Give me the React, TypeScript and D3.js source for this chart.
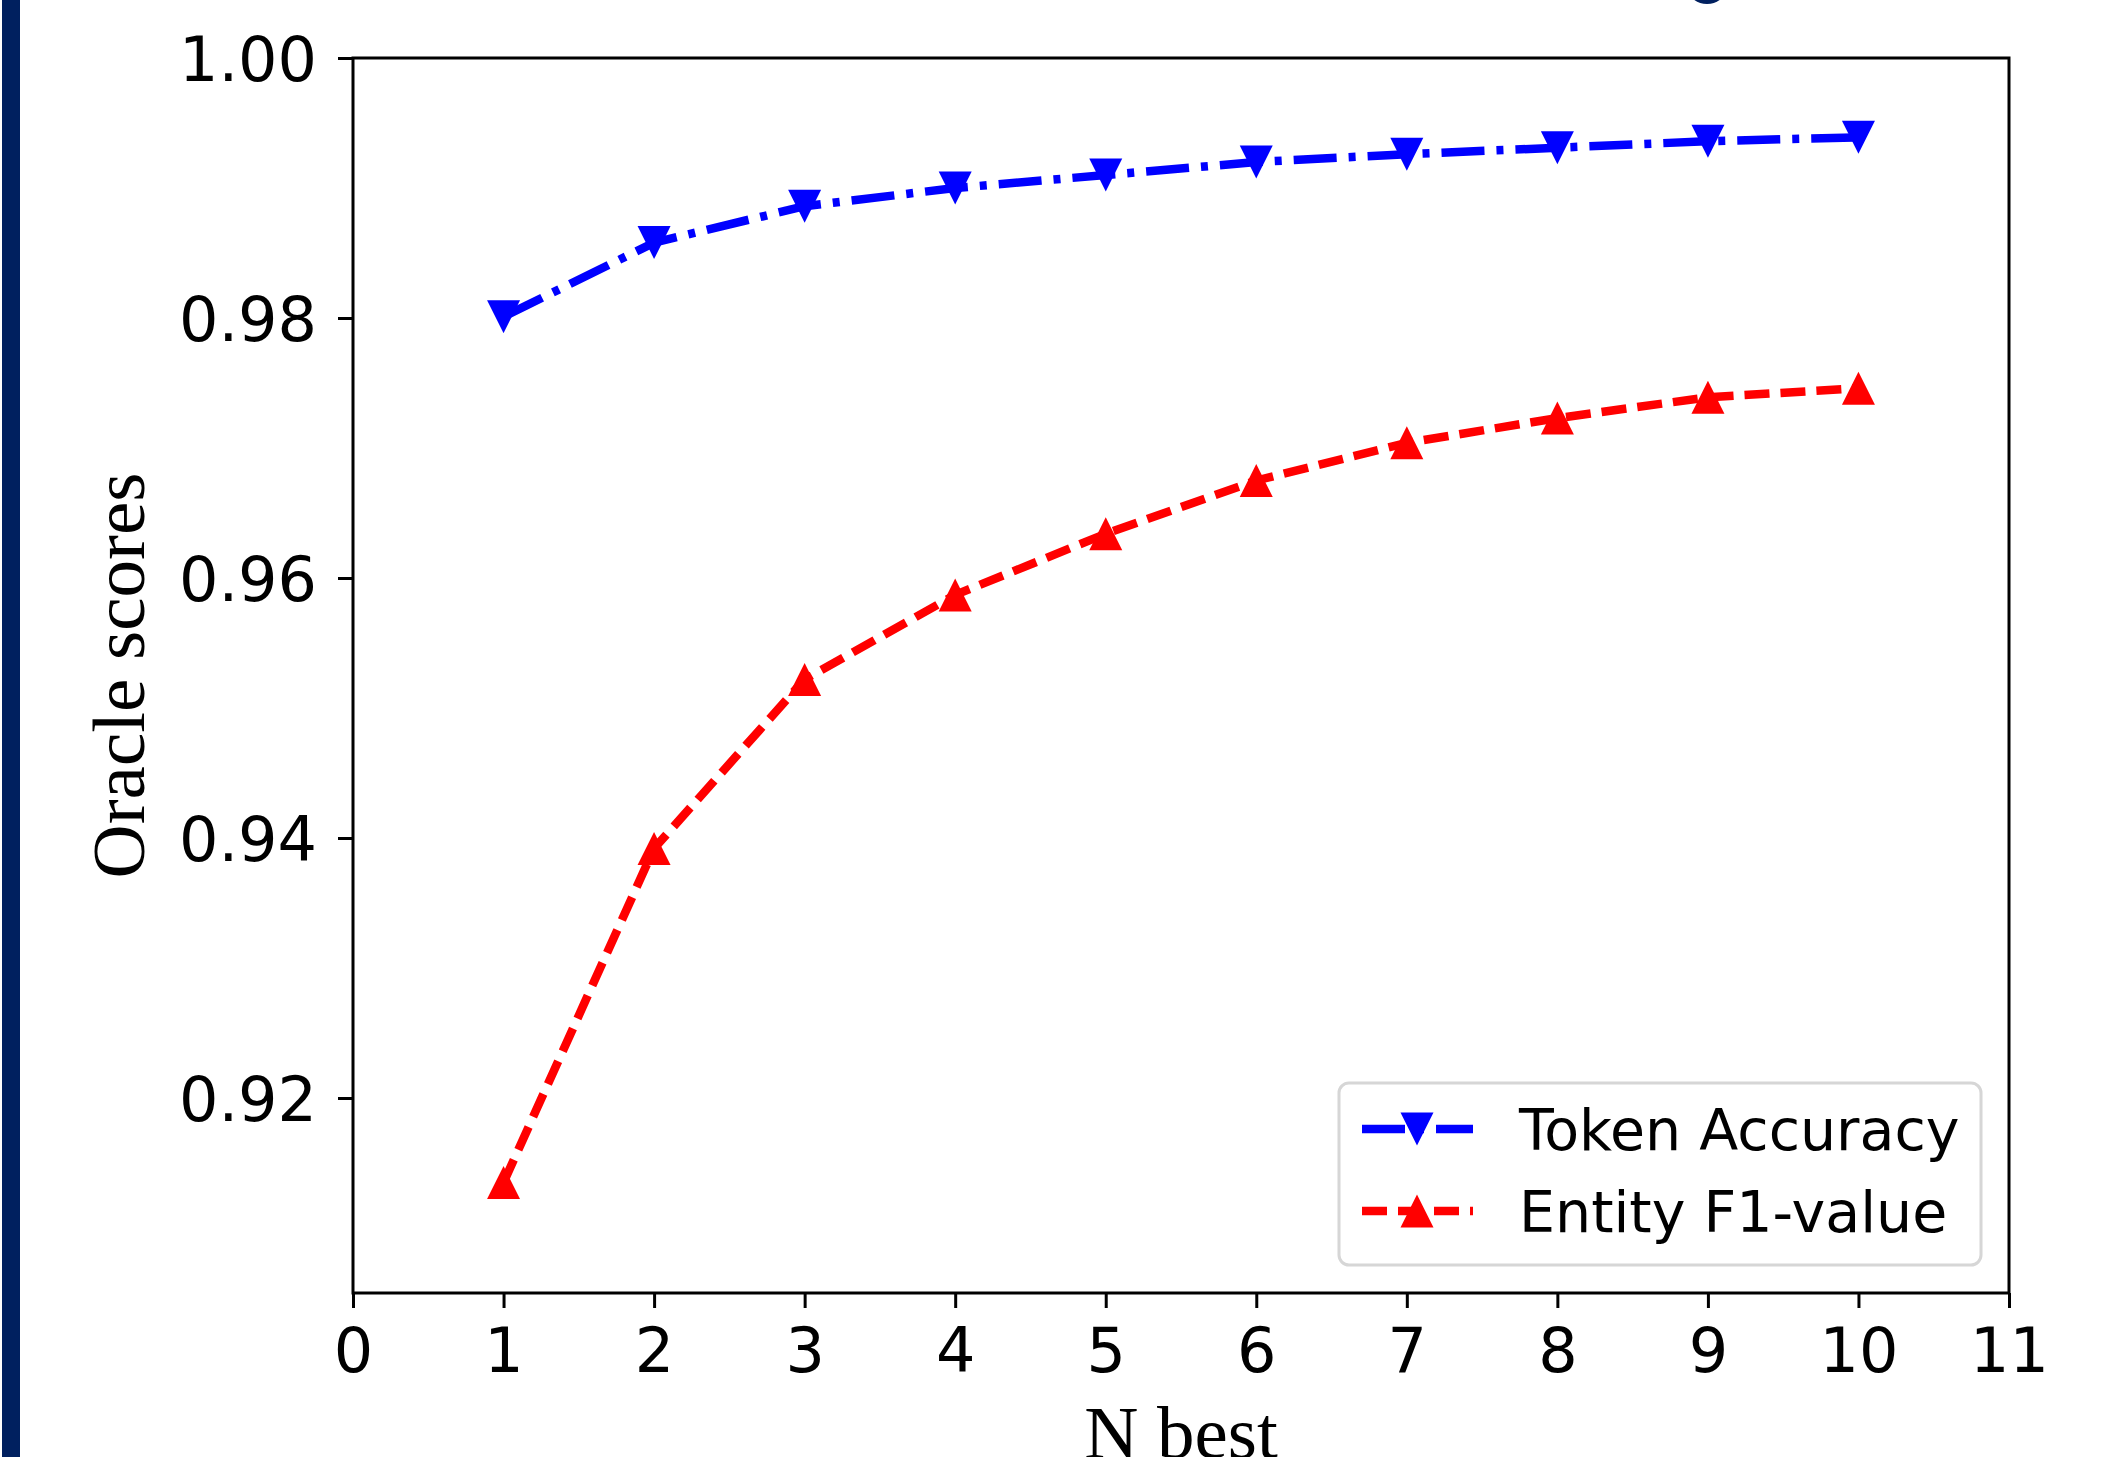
import React, { useEffect, useRef } from "react";
import * as d3 from "d3";

// N-best oracle scores
const nBest = [1, 2, 3, 4, 5, 6, 7, 8, 9, 10];
const tokenAccuracy = [0.9801, 0.9858, 0.9886, 0.99, 0.991, 0.992, 0.9926, 0.9931, 0.9936, 0.9939];
const entityF1 = [0.9135, 0.9392, 0.9522, 0.9587, 0.9634, 0.9675, 0.9704, 0.9723, 0.9739, 0.9746];
const seriesNames = ["Token Accuracy", "Entity F1-value"];
const xTicks = [0, 1, 2, 3, 4, 5, 6, 7, 8, 9, 10, 11];
const yTicks = [0.92, 0.94, 0.96, 0.98, 1.0];

const W = 2112;
const H = 1457;

export default function App() {
  const ref = useRef<SVGSVGElement>(null);

  useEffect(() => {
    const svg = d3.select(ref.current);
    svg.selectAll("*").remove();

    const left = 353, right = 2009, top = 58, bottom = 1293;
    const x = d3.scaleLinear().domain([0, 11]).range([left, right]);
    const y = d3.scaleLinear().domain([0.905, 1.0]).range([bottom, top]);

    // navy strip on the left edge and a clipped glyph at the top
    svg.append("rect").attr("x", 2).attr("y", 0).attr("width", 18).attr("height", H).attr("fill", "#00205f");
    svg.append("ellipse").attr("cx", 1707).attr("cy", -10).attr("rx", 18).attr("ry", 14).attr("fill", "#00205f");

    svg.append("clipPath").attr("id", "plotclip")
      .append("rect").attr("x", left).attr("y", top).attr("width", right - left).attr("height", bottom - top);

    const lw = 8.5;
    const series = [
      { name: seriesNames[0], values: tokenAccuracy, color: "#0000ff", dash: "43,12,7,12", down: true },
      { name: seriesNames[1], values: entityF1, color: "#ff0000", dash: "25,11", down: false },
    ];

    const ms = 16.5;
    const tri = (down: boolean) =>
      down ? `M0,${ms}L${-ms},${-ms}L${ms},${-ms}Z` : `M0,${-ms}L${-ms},${ms}L${ms},${ms}Z`;

    const line = d3.line<number>().x((d, i) => x(nBest[i])).y(d => y(d));

    series.forEach(s => {
      svg.append("path")
        .attr("d", line(s.values))
        .attr("fill", "none")
        .attr("stroke", s.color)
        .attr("stroke-width", lw)
        .attr("stroke-dasharray", s.dash)
        .attr("stroke-linejoin", "round")
        .attr("clip-path", "url(#plotclip)");
      svg.append("g").selectAll("path")
        .data(s.values)
        .join("path")
        .attr("transform", (d, i) => `translate(${x(nBest[i])},${y(d)})`)
        .attr("d", tri(s.down))
        .attr("fill", s.color);
    });

    const xAxis = d3.axisBottom(x).tickValues(xTicks).tickSize(15).tickSizeOuter(0).tickPadding(20).tickFormat(d3.format("d"));
    svg.append("g")
      .attr("transform", `translate(0,${bottom})`)
      .call(xAxis)
      .attr("font-size", 62)
      .attr("font-family", "DejaVu Sans")
      .call(g => g.select(".domain").remove())
      .call(g => g.selectAll("line").attr("stroke", "#000").attr("stroke-width", 3))
      .call(g => g.selectAll("text").attr("fill", "#000"));

    const yAxis = d3.axisLeft(y).tickValues(yTicks).tickSize(15).tickSizeOuter(0).tickPadding(21).tickFormat(d3.format(".2f"));
    svg.append("g")
      .attr("transform", `translate(${left},0)`)
      .call(yAxis)
      .attr("font-size", 62)
      .attr("font-family", "DejaVu Sans")
      .call(g => g.select(".domain").remove())
      .call(g => g.selectAll("line").attr("stroke", "#000").attr("stroke-width", 3))
      .call(g => g.selectAll("text").attr("fill", "#000").attr("dy", "0.36em"));

    // spines
    svg.append("rect")
      .attr("x", left).attr("y", top).attr("width", right - left).attr("height", bottom - top)
      .attr("fill", "none").attr("stroke", "#000").attr("stroke-width", 3);

    svg.append("text")
      .attr("transform", `translate(144,${(top + bottom) / 2}) rotate(-90)`)
      .attr("text-anchor", "middle")
      .attr("font-family", "Liberation Serif")
      .attr("font-size", 75)
      .text("Oracle scores");

    svg.append("text")
      .attr("x", (left + right) / 2)
      .attr("y", 1458)
      .attr("text-anchor", "middle")
      .attr("font-family", "Liberation Serif")
      .attr("font-size", 75)
      .text("N best");

    // legend
    const lg = svg.append("g");
    lg.append("rect")
      .attr("x", 1339).attr("y", 1083).attr("width", 642).attr("height", 182).attr("rx", 10)
      .attr("fill", "#fff").attr("stroke", "#d6d6d6").attr("stroke-width", 3);
    series.forEach((s, i) => {
      const cy = 1129 + i * 82;
      lg.append("line")
        .attr("x1", 1362).attr("x2", 1473).attr("y1", cy).attr("y2", cy)
        .attr("stroke", s.color).attr("stroke-width", lw).attr("stroke-dasharray", s.dash);
      lg.append("path").attr("transform", `translate(1417,${cy})`).attr("d", tri(s.down)).attr("fill", s.color);
      lg.append("text")
        .attr("x", 1519).attr("y", cy + 21)
        .attr("font-family", "DejaVu Sans").attr("font-size", 57)
        .text(s.name);
    });
  }, []);

  return (
    <svg
      ref={ref}
      width={W}
      height={H}
      style={{ position: "absolute", left: 0, top: 0, display: "block", background: "#fff" }}
    />
  );
}
